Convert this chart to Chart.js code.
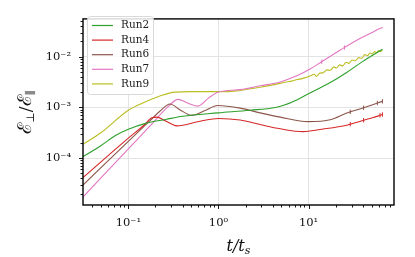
<!DOCTYPE html>
<html>
<head>
<meta charset="utf-8">
<script src="https://cdn.jsdelivr.net/npm/chart.js@4.4.1/dist/chart.umd.min.js"></script>
<style>
  html, body { margin: 0; padding: 0; background: #fff; }
</style>
</head>
<body>
<canvas id="chart" width="415" height="257"></canvas>
<script>
// values (t / t_s against E_perp / E_par)
const runNames = ['Run2', 'Run4', 'Run6', 'Run7', 'Run9'];
const runColors = ['#2ca02c', '#d62728', '#8c564b', '#e377c2', '#bcbd22'];

const run2T = [0.0314, 0.05, 0.072, 0.1, 0.155, 0.26, 0.4, 1.0, 2.25, 4.3, 5.3, 7.5, 10.5, 17.4, 26.5, 40, 66];
const run2E = [1.07e-4, 1.78e-4, 2.79e-4, 3.7e-4, 4.85e-4, 5.8e-4, 6.7e-4, 7.8e-4, 8.8e-4, 1.0e-3, 1.1e-3, 1.42e-3, 1.95e-3, 3.1e-3, 4.9e-3, 8.1e-3, 0.014];

const run4T = [0.0314, 0.1, 0.15, 0.182, 0.207, 0.256, 0.345, 0.625, 1.0, 1.74, 2.9, 4.85, 8.7, 13.5, 26.5, 29, 40.8, 52, 62, 66];
const run4E = [4.13e-5, 2.48e-4, 4.5e-4, 6.24e-4, 6.44e-4, 5.47e-4, 4.33e-4, 5.35e-4, 6.05e-4, 5.64e-4, 4.59e-4, 3.79e-4, 3.33e-4, 3.68e-4, 4.45e-4, 4.67e-4, 5.6e-4, 6.3e-4, 6.98e-4, 7.25e-4];

const run6T = [0.0314, 0.1, 0.174, 0.225, 0.29, 0.376, 0.506, 0.71, 0.98, 1.74, 2.9, 4.85, 9.9, 17.4, 26.5, 29, 40.8, 58, 66];
const run6E = [2.95e-5, 2.14e-4, 5.47e-4, 8.5e-4, 1.17e-3, 8.9e-4, 6.97e-4, 8.7e-4, 1.09e-3, 9.7e-4, 7.8e-4, 6.44e-4, 5.24e-4, 5.71e-4, 7.78e-4, 8.17e-4, 9.84e-4, 1.22e-3, 1.32e-3];

const run7T = [0.0314, 0.1, 0.174, 0.278, 0.356, 0.46, 0.594, 0.77, 1.0, 1.74, 2.9, 4.85, 7.5, 10.5, 14, 22.5, 25, 37.5, 50, 62.6, 67];
const run7E = [1.71e-5, 1.52e-4, 4.33e-4, 1.045e-3, 1.44e-3, 1.21e-3, 1.06e-3, 1.51e-3, 2.02e-3, 2.24e-3, 2.67e-3, 3.18e-3, 4.24e-3, 5.77e-3, 7.98e-3, 0.0136, 0.0152, 0.0231, 0.0298, 0.0363, 0.0375];

const run9T = [0.0314, 0.05, 0.1, 0.16, 0.237, 0.33, 0.5, 1.0, 1.5, 2.9, 4.3, 5.5, 6.5, 7.5, 8.5, 9.5, 10.5, 11.5, 12.3, 13.2, 14.5, 16, 17.4, 19, 20.5, 22, 24, 26, 28, 30.5, 33, 36, 39, 42, 45, 48, 51, 54, 57, 60, 63, 66];
const run9E = [1.875e-4, 3.2e-4, 8.8e-4, 1.32e-3, 1.74e-3, 2.0e-3, 2.05e-3, 2.05e-3, 2.1e-3, 2.5e-3, 2.85e-3, 3.14e-3, 3.3e-3, 3.55e-3, 3.7e-3, 3.95e-3, 4.2e-3, 4.5e-3, 4.1e-3, 4.7e-3, 4.85e-3, 5.5e-3, 5.4e-3, 6.3e-3, 6.0e-3, 6.9e-3, 6.6e-3, 7.8e-3, 7.4e-3, 8.6e-3, 8.3e-3, 9.6e-3, 9.3e-3, 0.011, 0.0105, 0.0118, 0.0113, 0.0126, 0.012, 0.0132, 0.0127, 0.0137];

// times where the reference shows small "+" marks on a curve
const run4Marks = [29, 40.8, 62, 66];
const run6Marks = [29, 40.8, 58, 66];
const run7Marks = [14, 25];

const xRange = [0.0314, 88.7];
const yRange = [1.19e-5, 0.0557];
const xTickLabels = ['10⁻¹', '10⁰', '10¹'];
const yTickLabels = ['10⁻⁴', '10⁻³', '10⁻²'];

const serif = '"DejaVu Serif", "Liberation Serif", serif';

function isDecade(v) {
  const e = Math.round(Math.log10(v));
  return Math.abs(v - Math.pow(10, e)) < 1e-6 * v;
}

function logTicks(min, max) {
  const out = [];
  for (let e = Math.floor(Math.log10(min)); e <= Math.ceil(Math.log10(max)); e++) {
    for (let m = 1; m <= 9; m++) {
      const v = m * Math.pow(10, e);
      if (v >= min && v <= max) out.push({ value: v, major: m === 1 });
    }
  }
  return out;
}

function decadeLabel(labels) {
  return (value) => {
    if (!isDecade(value)) return '';
    const s = '10' + String(Math.round(Math.log10(value))).replace('-', '⁻').replace(/\d/g, d => '⁰¹²³⁴⁵⁶⁷⁸⁹'[d]);
    return labels.includes(s) ? s : '';
  };
}

const series = [[run2T, run2E, []], [run4T, run4E, run4Marks], [run6T, run6E, run6Marks], [run7T, run7E, run7Marks], [run9T, run9E, []]];
const datasets = series.map(([t, e, marks], i) => ({
  label: runNames[i],
  data: t.map((v, k) => ({ x: v, y: e[k] })),
  borderColor: runColors[i],
  backgroundColor: runColors[i],
  borderWidth: 1.1,
  pointStyle: 'line',
  pointRotation: 90,
  pointBorderWidth: 1,
  pointRadius: (c) => (c.raw && marks.includes(c.raw.x) ? 2.2 : 0),
  fill: false,
  cubicInterpolationMode: 'monotone'
}));

function drawSub(ctx, parts, x, y) {
  // parts: [text, size, baselineShift, italic]
  let w = 0;
  parts.forEach(p => { ctx.font = `${p[3] ? 'italic ' : ''}${p[1]}px ${serif}`; w += ctx.measureText(p[0]).width; });
  let cx = x - w / 2;
  parts.forEach(p => {
    ctx.font = `${p[3] ? 'italic ' : ''}${p[1]}px ${serif}`;
    ctx.fillText(p[0], cx, y + p[2]);
    cx += ctx.measureText(p[0]).width;
  });
}

const decoPlugin = {
  id: 'deco',
  afterDatasetsDraw(chart) {
    const { ctx, chartArea: a, scales: { x, y } } = chart;
    ctx.save();
    ctx.strokeStyle = '#000';
    ctx.lineWidth = 0.9;
    x.ticks.forEach(t => {
      const px = Math.round(x.getPixelForValue(t.value)) + 0.5;
      const len = isDecade(t.value) ? 4 : 2.5;
      ctx.beginPath(); ctx.moveTo(px, a.bottom); ctx.lineTo(px, a.bottom + len); ctx.stroke();
    });
    y.ticks.forEach(t => {
      const py = Math.round(y.getPixelForValue(t.value)) + 0.5;
      const len = isDecade(t.value) ? 4 : 2.5;
      ctx.beginPath(); ctx.moveTo(a.left, py); ctx.lineTo(a.left - len, py); ctx.stroke();
    });
    ctx.lineWidth = 1.4;
    ctx.strokeRect(a.left, a.top, a.right - a.left, a.bottom - a.top);
    ctx.restore();
  },
  afterDraw(chart) {
    const { ctx, chartArea: a } = chart;
    ctx.save();
    // legend box
    const bx = 87.5, by = 16.5, bw = 66, bh = 78;
    ctx.beginPath();
    ctx.roundRect(bx, by, bw, bh, 3);
    ctx.fillStyle = 'rgba(255,255,255,0.85)';
    ctx.fill();
    ctx.strokeStyle = '#d9d9d9';
    ctx.lineWidth = 1;
    ctx.stroke();
    ctx.font = `10.5px ${serif}`;
    ctx.textBaseline = 'middle';
    chart.data.datasets.forEach((ds, i) => {
      const ry = 25.5 + i * 14.6;
      ctx.strokeStyle = ds.borderColor;
      ctx.lineWidth = 1.2;
      ctx.beginPath(); ctx.moveTo(92, ry); ctx.lineTo(113, ry); ctx.stroke();
      ctx.fillStyle = '#222';
      ctx.fillText(ds.label, 121, ry);
    });
    // axis titles
    ctx.fillStyle = '#111';
    ctx.textBaseline = 'alphabetic';
    drawSub(ctx, [['t', 16, 0, true], ['/', 16, 0, true], ['t', 16, 0, true], ['s', 11, 3, true]], (a.left + a.right) / 2, 251);
    ctx.translate(31, (a.top + a.bottom) / 2);
    ctx.rotate(-Math.PI / 2);
    drawSub(ctx, [['ℰ', 19, 0, false], ['⊥', 11, 3, false], ['/', 17, 0, false], ['ℰ', 19, 0, false], ['∥', 11, 3, false]], 0, 0);
    ctx.restore();
  }
};

new Chart(document.getElementById('chart'), {
  type: 'line',
  data: { datasets },
  plugins: [decoPlugin],
  options: {
    responsive: false,
    animation: false,
    events: [],
    layout: { padding: { top: 13, right: 21, left: 0, bottom: 0 } },
    plugins: { legend: { display: false }, tooltip: { enabled: false } },
    scales: {
      x: {
        type: 'logarithmic',
        min: xRange[0],
        max: xRange[1],
        bounds: 'data',
        afterBuildTicks: (s) => { s.ticks = logTicks(xRange[0], xRange[1]); },
        afterFit: (s) => { s.height = 52; },
        border: { display: false },
        grid: {
          drawTicks: false,
          color: (c) => (c.tick && isDecade(c.tick.value) ? '#e3e3e3' : 'rgba(0,0,0,0)'),
          lineWidth: 1
        },
        ticks: {
          autoSkip: false,
          maxRotation: 0,
          padding: 11,
          color: '#111',
          font: { family: serif, size: 11.5 },
          callback: decadeLabel(xTickLabels)
        }
      },
      y: {
        type: 'logarithmic',
        min: yRange[0],
        max: yRange[1],
        bounds: 'data',
        afterBuildTicks: (s) => { s.ticks = logTicks(yRange[0], yRange[1]); },
        afterFit: (s) => { s.width = 83; },
        border: { display: false },
        grid: {
          drawTicks: false,
          color: (c) => (c.tick && isDecade(c.tick.value) ? '#e3e3e3' : 'rgba(0,0,0,0)'),
          lineWidth: 1
        },
        ticks: {
          autoSkip: false,
          padding: 12,
          color: '#111',
          font: { family: serif, size: 11.5 },
          callback: decadeLabel(yTickLabels)
        }
      }
    }
  }
});
</script>
</body>
</html>
